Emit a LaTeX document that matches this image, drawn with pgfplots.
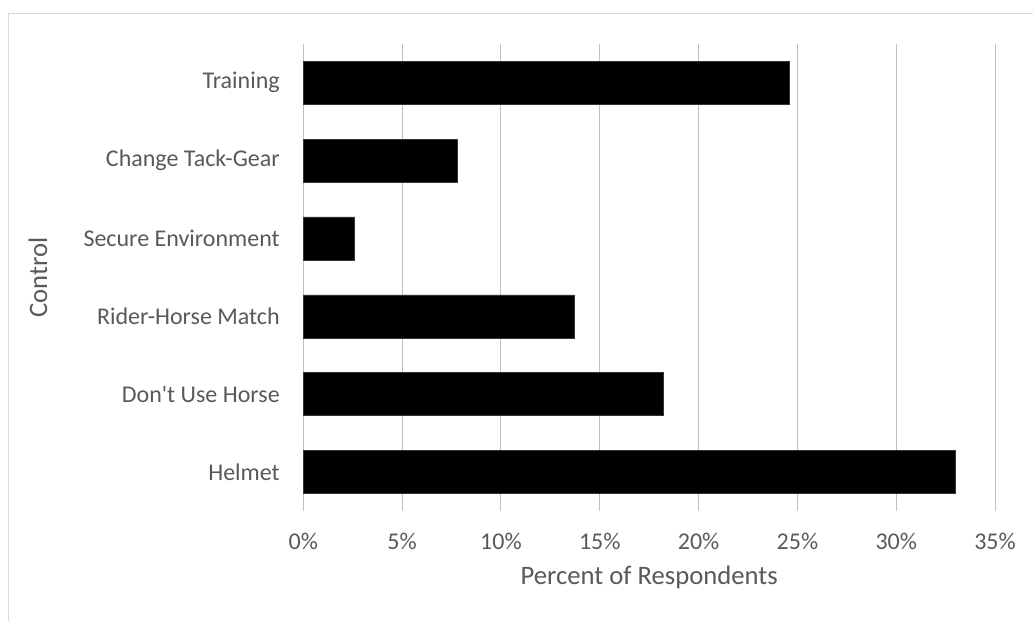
\documentclass[border=0pt]{standalone}
\usepackage{pgfplots}
\pgfplotsset{compat=1.18}
\usepackage{fontspec}
\setmainfont{Carlito}[Ligatures=TeXOff]
\definecolor{txt}{HTML}{595959}
\definecolor{grid}{HTML}{D9D9D9}
\begin{document}
\begin{tikzpicture}
\useasboundingbox (0pt,0pt) rectangle (774.75pt,465.75pt);
\draw[grid, line width=0.75pt] (6pt,-5pt) -- (6pt,455.25pt) -- (780pt,455.25pt);
\begin{axis}[
  at={(227.5pt,82.5pt)}, anchor=south west,
  scale only axis, width=518.8pt, height=350.5pt,
  xbar, bar width=32.25pt,
  xmin=0, xmax=35, ymin=-0.5, ymax=5.5,
  axis line style={draw=none},
  xtick={0,5,10,15,20,25,30,35},
  xticklabels={0\%,5\%,10\%,15\%,20\%,25\%,30\%,35\%},
  ytick={0,1,2,3,4,5},
  yticklabels={Helmet,Don't Use Horse,Rider-Horse Match,Secure Environment,Change Tack-Gear,Training},
  major tick length=0pt,
  xmajorgrids, major grid style={grid, line width=0.75pt},
  ymajorgrids=false,
  tick label style={font=\fontsize{18}{21.6}\selectfont, text=txt},
  xticklabel style={anchor=center, yshift=-22.5pt},
  yticklabel style={anchor=east, inner sep=0pt, xshift=-17.5pt},
  xlabel={Percent of Respondents},
  ylabel={Control},
  label style={font=\fontsize{20}{24}\selectfont, text=txt},
  xlabel style={at={(axis description cs:0.5,0)}, anchor=center, yshift=-50pt},
  ylabel style={at={(axis description cs:-0.3836,0.5)}, anchor=center},
  clip=false,
]
\addplot[fill=black, draw=black!80] coordinates {
  (33.0,0) (18.2,1) (13.7,2) (2.6,3) (7.8,4) (24.6,5)
};
\end{axis}
\end{tikzpicture}
\end{document}
